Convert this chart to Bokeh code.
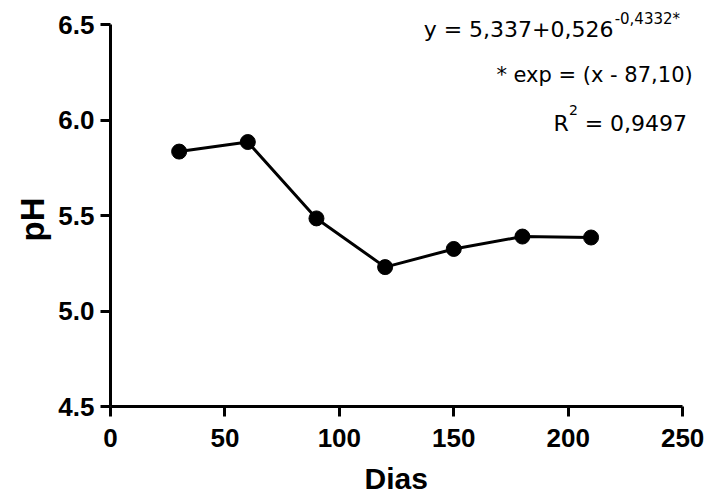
from bokeh.plotting import figure
from bokeh.models import Label, FixedTicker, Title
from bokeh.embed import file_html
from bokeh.resources import INLINE

# ---- data ----
dias = [30, 60, 90, 120, 150, 180, 210]
ph = [5.835, 5.885, 5.485, 5.23, 5.325, 5.39, 5.385]
x_ticks = [0, 50, 100, 150, 200, 250]
y_ticks = [4.5, 5.0, 5.5, 6.0, 6.5]
y_tick_labels = ["4.5", "5.0", "5.5", "6.0", "6.5"]
x_title = "Dias"
y_title = "pH"
eq_main = "y = 5,337+0,526"
eq_exp = "-0,4332*"
eq_note = "* exp = (x - 87,10)"
r2_base = "R"
r2_sup = "2"
r2_value = " = 0,9497"

# frame extends a little beyond the axes (axes bounded) so that
# the annotation texts at the top right are not clipped
p = figure(frame_width=595, frame_height=401,
           x_range=(0, 260), y_range=(4.5, 6.6),
           output_backend="svg", toolbar_location=None,
           min_border_left=110, min_border_top=5,
           min_border_right=4, min_border_bottom=84,
           background_fill_color="white", border_fill_color="white")
p.outline_line_color = None
p.xgrid.visible = False
p.ygrid.visible = False

p.xaxis.ticker = FixedTicker(ticks=x_ticks)
p.yaxis.ticker = FixedTicker(ticks=y_ticks)
p.yaxis.major_label_overrides = {t: s for t, s in zip(y_ticks, y_tick_labels)}
p.xaxis.bounds = (x_ticks[0], x_ticks[-1])
p.yaxis.bounds = (y_ticks[0], y_ticks[-1])

for ax in (p.xaxis[0], p.yaxis[0]):
    ax.axis_line_width = 3
    ax.axis_line_color = "black"
    ax.major_tick_line_width = 3
    ax.major_tick_line_color = "black"
    ax.major_tick_out = 10
    ax.major_tick_in = 0
    ax.minor_tick_line_color = None
    ax.major_label_text_font = "Liberation Sans"
    ax.major_label_text_font_style = "bold"
    ax.major_label_text_font_size = "26px"
    ax.major_label_text_color = "black"

p.xaxis.major_label_standoff = 12
p.yaxis.major_label_standoff = 6

# axis titles, centred on the axes (not on the wider frame)
xt = Title(text=x_title, align="left", offset=254, standoff=20,
           text_font="Liberation Sans", text_font_style="bold",
           text_font_size="30px", text_color="black")
p.add_layout(xt, "below")
yt = Title(text=y_title, align="left", offset=165, standoff=9,
           text_font="Liberation Sans", text_font_style="bold",
           text_font_size="33px", text_color="black")
p.add_layout(yt, "left")

p.line(dias, ph, line_width=3, line_color="black")
p.scatter(dias, ph, size=15, fill_color="black", line_color="black")

font = "DejaVu Sans"
def lab(x, y, text, size, align):
    p.add_layout(Label(x=x, y=y, text=text, text_font=font,
                       text_font_size=size, text_align=align,
                       text_baseline="alphabetic", text_color="black"))

lab(219.8, 6.4735, eq_main, "22px", "right")
lab(220.3, 6.5295, eq_exp, "15px", "left")
lab(254.4, 6.238, eq_note, "21px", "right")
lab(193.6, 5.9814, r2_base, "22px", "left")
lab(200.4, 6.0547, r2_sup, "14px", "left")
lab(255.0, 5.9814, r2_value, "22px", "right")

open("out.html", "w").write(file_html(p, INLINE))
